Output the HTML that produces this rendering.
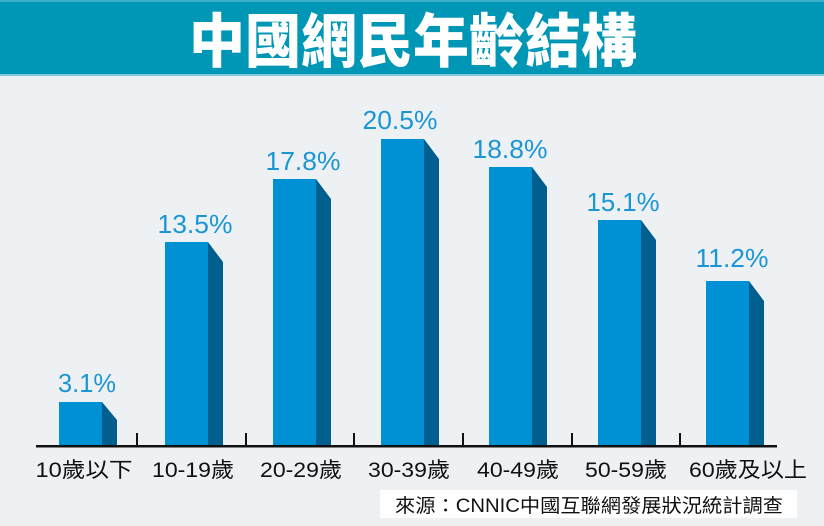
<!DOCTYPE html>
<html><head><meta charset="utf-8"><style>
html,body{margin:0;padding:0;background:#eef1f3;}
svg{display:block}
</style></head><body>
<svg width="824" height="526" viewBox="0 0 824 526" xmlns="http://www.w3.org/2000/svg">
<rect width="824" height="526" fill="#eef1f3"/>
<rect width="824" height="75" fill="#0096b6"/>
<rect y="0" width="824" height="2" fill="#3ab0cc"/>
<rect y="74" width="824" height="2" fill="#7fc9dc"/>
<text x="413" y="60" text-anchor="middle" font-family="'Noto Sans CJK TC','WenQuanYi Zen Hei',sans-serif" font-weight="900" font-size="56" fill="#fff" transform="translate(413 0) scale(1 1.05) translate(-413 -1)">中國網民年齡結構</text>
<g fill="#0091d5">
<rect x="59" y="402" width="43" height="44"/>
<rect x="165" y="242" width="43" height="204"/>
<rect x="273" y="179" width="43" height="267"/>
<rect x="381" y="139" width="43" height="307"/>
<rect x="489" y="167" width="43" height="279"/>
<rect x="598" y="220" width="43" height="226"/>
<rect x="706" y="281" width="43" height="165"/>
</g>
<g fill="#005f8f">
<polygon points="102,402 117,420 117,446 102,446"/>
<polygon points="208,242 223,262 223,446 208,446"/>
<polygon points="316,179 331,199 331,446 316,446"/>
<polygon points="424,139 439,159 439,446 424,446"/>
<polygon points="532,167 547,187 547,446 532,446"/>
<polygon points="641,220 656,240 656,446 641,446"/>
<polygon points="749,281 764,301 764,446 749,446"/>
</g>
<g font-family="'Liberation Sans',sans-serif" font-size="26" fill="#1a96d4" text-anchor="middle" lengthAdjust="spacingAndGlyphs">
<text x="87" y="392" textLength="58" lengthAdjust="spacingAndGlyphs">3.1%</text>
<text x="195" y="233" textLength="75" lengthAdjust="spacingAndGlyphs">13.5%</text>
<text x="303" y="170" textLength="75" lengthAdjust="spacingAndGlyphs">17.8%</text>
<text x="400" y="129" textLength="75" lengthAdjust="spacingAndGlyphs">20.5%</text>
<text x="510" y="158" textLength="75" lengthAdjust="spacingAndGlyphs">18.8%</text>
<text x="623" y="211" textLength="73" lengthAdjust="spacingAndGlyphs">15.1%</text>
<text x="732" y="267" textLength="73" lengthAdjust="spacingAndGlyphs">11.2%</text>
</g>
<rect x="36" y="445" width="741" height="2.5" fill="#111"/>
<g fill="#111">
<rect x="136" y="433" width="2" height="13"/>
<rect x="245" y="433" width="2" height="13"/>
<rect x="353" y="433" width="2" height="13"/>
<rect x="462" y="433" width="2" height="13"/>
<rect x="571" y="433" width="2" height="13"/>
<rect x="679" y="433" width="2" height="13"/>
</g>
<g font-family="'Liberation Sans','Noto Sans CJK TC',sans-serif" font-size="21" fill="#111" text-anchor="middle">
<text x="84" y="477" textLength="97" lengthAdjust="spacingAndGlyphs">10歲以下</text>
<text x="193" y="477" textLength="82" lengthAdjust="spacingAndGlyphs">10-19歲</text>
<text x="301" y="477" textLength="82" lengthAdjust="spacingAndGlyphs">20-29歲</text>
<text x="409" y="477" textLength="82" lengthAdjust="spacingAndGlyphs">30-39歲</text>
<text x="518" y="477" textLength="82" lengthAdjust="spacingAndGlyphs">40-49歲</text>
<text x="626" y="477" textLength="82" lengthAdjust="spacingAndGlyphs">50-59歲</text>
<text x="748" y="477" textLength="118" lengthAdjust="spacingAndGlyphs">60歲及以上</text>
</g>
<rect x="380" y="490" width="417" height="28" fill="#fff"/>
<text x="395" y="512" font-family="'Liberation Sans','Noto Sans CJK TC',sans-serif" font-size="19" fill="#111" textLength="388" lengthAdjust="spacingAndGlyphs">來源：CNNIC中國互聯網發展狀況統計調查</text>
</svg>
</body></html>
